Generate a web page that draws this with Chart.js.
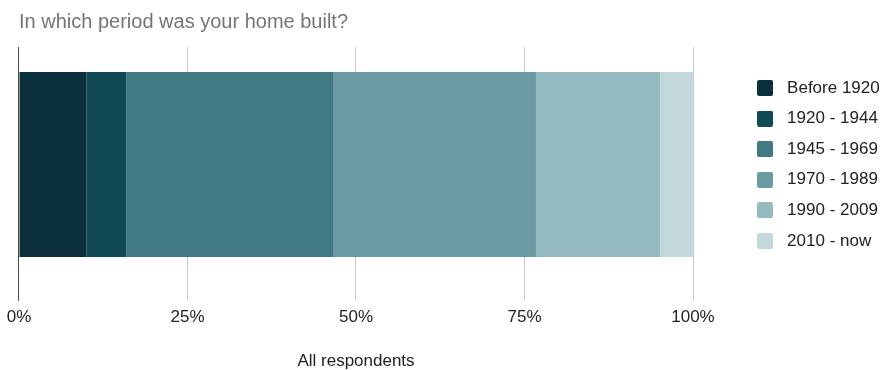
<!DOCTYPE html>
<html>
<head>
<meta charset="utf-8">
<script src="https://cdn.jsdelivr.net/npm/chart.js@4.4.1/dist/chart.umd.min.js"></script>
<style>
  html, body { margin: 0; padding: 0; background: #ffffff; }
  #wrap { width: 884px; height: 370px; position: relative; }
</style>
</head>
<body>
<div id="wrap"><canvas id="chart"></canvas></div>
<script>
// Survey: share of respondents by construction period of their home (%)
const categories = ['All respondents'];
const periods = ['Before 1920', '1920 - 1944', '1945 - 1969', '1970 - 1989', '1990 - 2009', '2010 - now'];
const shares = [10, 5.9, 30.8, 30, 18.4, 4.9];
const tickValues = [0, 25, 50, 75, 100];

const palette = ['#0b2f3a', '#0f4a55', '#427a84', '#6b9ca4', '#95bbc0', '#c2d8db'];

Chart.defaults.font.family = "'Liberation Sans', Arial, sans-serif";
Chart.defaults.color = '#222222';

// small rounded square used as the legend swatch
function swatch(color) {
  const c = document.createElement('canvas');
  c.width = 16; c.height = 16;
  const g = c.getContext('2d');
  g.fillStyle = color;
  g.beginPath();
  g.roundRect(0, 0, 16, 16, 2);
  g.fill();
  return c;
}

const datasets = periods.map((name, i) => ({
  label: name,
  data: [shares[i]],
  backgroundColor: palette[i],
  borderWidth: 0,
  barPercentage: 0.787,
  categoryPercentage: 1
}));

new Chart(document.getElementById('chart'), {
  type: 'bar',
  data: { labels: categories, datasets },
  options: {
    indexAxis: 'y',
    responsive: true,
    maintainAspectRatio: false,
    animation: false,
    layout: { padding: { left: 16, right: 4, top: 0, bottom: 0 } },
    scales: {
      x: {
        stacked: true,
        min: 0,
        max: 100,
        afterBuildTicks: (scale) => { scale.ticks = tickValues.map(v => ({ value: v })); },
        ticks: {
          callback: (v) => v + '%',
          font: { size: 17 },
          color: '#222222',
          padding: 6.7,
          maxRotation: 0
        },
        grid: {
          color: (ctx) => (ctx.tick && ctx.tick.value === 0 ? '#4a4a4a' : '#cccccc'),
          tickColor: (ctx) => (ctx.tick && ctx.tick.value === 0 ? '#4a4a4a' : '#cccccc'),
          tickLength: 19,
          lineWidth: 1,
          drawTicks: true
        },
        border: { display: false },
        title: {
          display: true,
          text: categories[0],
          font: { size: 17, lineHeight: 1 },
          color: '#222222',
          padding: { top: 18.3, bottom: 0 }
        }
      },
      y: {
        stacked: true,
        position: 'right',
        ticks: { display: false },
        grid: { display: false, drawTicks: false },
        border: { display: false },
        afterFit: (scale) => { scale.width = 45; }
      }
    },
    plugins: {
      title: {
        display: true,
        fullSize: false,
        text: 'In which period was your home built?',
        align: 'start',
        color: '#757575',
        font: { size: 20, weight: 'normal' },
        padding: { top: 10, bottom: 13 }
      },
      legend: {
        position: 'right',
        fullSize: false,
        align: 'center',
        maxWidth: 142,
        labels: {
          usePointStyle: true,
          pointStyleWidth: 27,
          boxHeight: 16,
          padding: 13.6,
          font: { size: 17 },
          color: '#222222',
          generateLabels: (chart) => {
            const items = Chart.defaults.plugins.legend.labels.generateLabels(chart);
            items.forEach(it => { it.pointStyle = swatch(palette[it.datasetIndex]); });
            return items;
          }
        }
      },
      tooltip: { enabled: false }
    }
  }
});
</script>
</body>
</html>
